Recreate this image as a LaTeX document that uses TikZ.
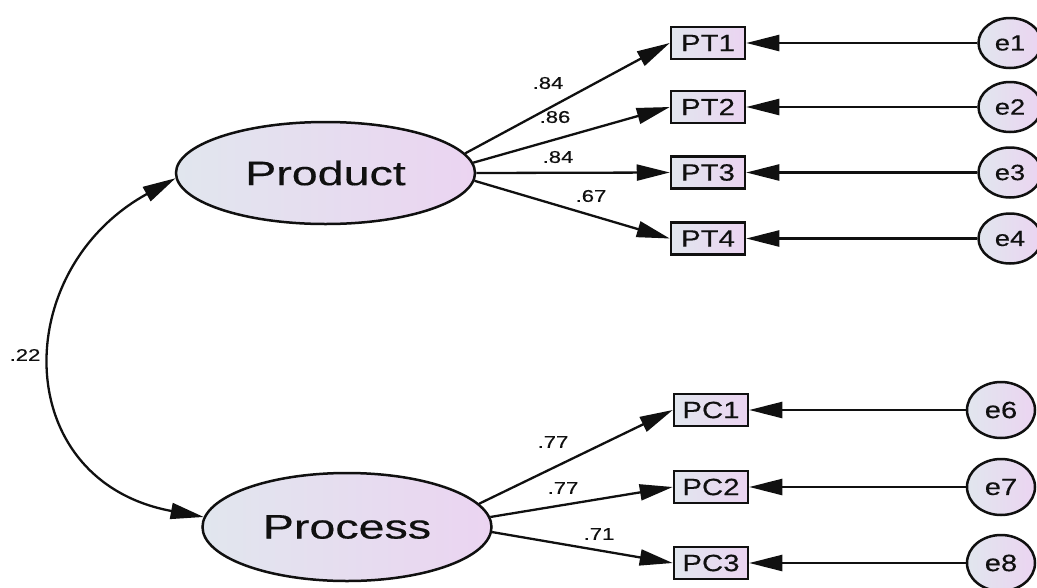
\documentclass[tikz,border=0pt]{standalone}
\usepackage{fontspec}
\usepackage{graphicx}
\setmainfont{Liberation Sans}[FakeBold=0.35]
\usetikzlibrary{shapes.geometric,arrows.meta}

\definecolor{shadeL}{HTML}{E1E6EE}
\definecolor{shadeR}{HTML}{EBD4F1}
\definecolor{inkc}{HTML}{101010}

% horizontally widened text
\newcommand\hwide[2]{\scalebox{#1}[1]{#2}}

\tikzset{
  latent/.style={ellipse, draw=inkc, line width=2.5pt, inner sep=0pt,
    minimum width=299pt, minimum height=102pt,
    left color=shadeL, right color=shadeR,
    font=\fontsize{34}{34}\selectfont},
  obsbox/.style={rectangle, draw=inkc, line width=2.5pt, inner sep=0pt,
    minimum width=74pt, minimum height=32pt,
    left color=shadeL, right color=shadeR,
    font=\fontsize{23.5}{23.5}\selectfont},
  errnode/.style={ellipse, draw=inkc, line width=2.5pt, inner sep=0pt,
    minimum width=63pt, minimum height=50pt,
    left color=shadeL, right color=shadeR,
    font=\fontsize{22}{22}\selectfont},
  bigerr/.style={errnode, minimum width=68pt, minimum height=56pt,
    font=\fontsize{23.5}{23.5}\selectfont},
  coef/.style={inner sep=0pt, font=\fontsize{17}{17}\selectfont},
  headtip/.tip={Triangle[length=33pt,width=16pt]},
  load/.style={draw=inkc, line width=2.3pt, -headtip},
  covar/.style={draw=inkc, line width=2.3pt, headtip-headtip},
}

\begin{document}
\begin{tikzpicture}[x=1pt,y=-1pt, every node/.append style={text=inkc}]
\useasboundingbox (0,0) rectangle (1037,587);
\clip (0,0) rectangle (1037,587);
\fill[white] (0,0) rectangle (1037,587);

% latent factors
\node[latent] (prod) at (325.5,173) {\hwide{1.37}{Product}};
\node[latent, minimum width=289pt, minimum height=108pt] (proc) at (347,527) {\hwide{1.37}{Process}};

% indicators
\node[obsbox] (pt1) at (708,43)  {\hwide{1.25}{PT1}};
\node[obsbox] (pt2) at (708,107) {\hwide{1.25}{PT2}};
\node[obsbox] (pt3) at (708,172.5) {\hwide{1.25}{PT3}};
\node[obsbox] (pt4) at (708,238.5) {\hwide{1.25}{PT4}};
\node[obsbox] (pc1) at (711,410) {\hwide{1.25}{PC1}};
\node[obsbox] (pc2) at (711,487) {\hwide{1.25}{PC2}};
\node[obsbox] (pc3) at (711,563) {\hwide{1.25}{PC3}};

% error terms
\node[errnode] (e1) at (1010,43)  {\hwide{1.24}{e1}};
\node[errnode] (e2) at (1010,107) {\hwide{1.24}{e2}};
\node[errnode] (e3) at (1010,172.5) {\hwide{1.24}{e3}};
\node[errnode] (e4) at (1010,238.5) {\hwide{1.24}{e4}};
\node[bigerr] (e6) at (1001,410) {\hwide{1.24}{e6}};
\node[bigerr] (e7) at (1001,487) {\hwide{1.24}{e7}};
\node[bigerr] (e8) at (1001,563) {\hwide{1.24}{e8}};

% factor loadings
\draw[load] (prod.8.4) -- (pt1.west);
\draw[load] (prod.4.2) -- (pt2.west);
\draw[load] (prod.0) -- (pt3.west);
\draw[load] (prod.-3.9) -- (pt4.west);
\draw[load] (proc.10.6) -- (pc1.west);
\draw[load] (proc.4.3) -- (pc2.west);
\draw[load] (proc.-2.8) -- (pc3.west);

% error paths
\foreach \e/\o in {e1/pt1,e2/pt2,e3/pt3,e4/pt4,e6/pc1,e7/pc2,e8/pc3}
  \draw[load] (\e) -- (\o.east);

% covariance between factors
\draw[covar] (prod.182) .. controls +(-167,92) and +(-194,-36) .. (proc.176);

% coefficients
\node[coef] (c1) at (548,83)  {\hwide{1.3}{.84}};
\node[coef] (c2) at (555,117) {\hwide{1.3}{.86}};
\node[coef] (c3) at (558,157) {\hwide{1.3}{.84}};
\node[coef] (c4) at (591,196) {\hwide{1.3}{.67}};
\node[coef] (c5) at (553,442) {\hwide{1.3}{.77}};
\node[coef] (c6) at (563,488) {\hwide{1.3}{.77}};
\node[coef] (c7) at (599,534) {\hwide{1.3}{.71}};
\node[coef] (c8) at (25,355)  {\hwide{1.3}{.22}};
\end{tikzpicture}
\end{document}
